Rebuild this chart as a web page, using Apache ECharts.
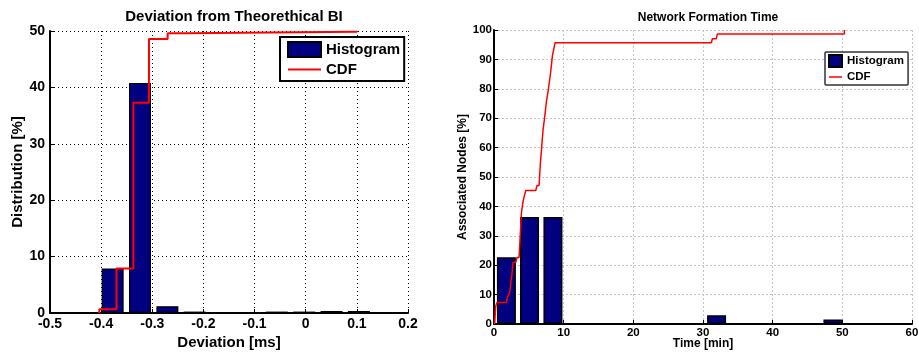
<!DOCTYPE html>
<html>
<head>
<meta charset="utf-8">
<script src="https://cdn.jsdelivr.net/npm/echarts@6/dist/echarts.min.js"></script>
<style>
html,body{margin:0;padding:0;background:#fff;}
#c{width:919px;height:352px;}
</style>
</head>
<body>
<div id="c"></div>
<script>
// ---- Left chart: Deviation from Theorethical BI ----
const devBinCenters = [-0.3775, -0.324, -0.2705, -0.217, -0.1635, -0.110, -0.0565, -0.003, 0.0505, 0.104];
const devHist = [7.9, 40.8, 1.2, 0.25, 0, 0, 0.25, 0.25, 0.35, 0.35];
const devCdfX = [-0.4035, -0.4035, -0.370, -0.337, -0.3065, -0.270, -0.235, 0.1];
const devCdfY = [0, 0.65, 7.9, 37.3, 48.6, 49.6, 49.85, 50];
const devXTicks = [-0.5, 0.2, 0.1];   // min, max, interval
const devYTicks = [0, 50, 10];

// ---- Right chart: Network Formation Time ----
const nftBinCenters = [1.78, 5.10, 8.46, 31.95, 48.65];
const nftHist = [22.7, 36.4, 36.4, 3.0, 1.5];
const nftCdfX = [0.1, 0.24, 0.43, 1.78, 1.92, 2.25, 2.59, 2.73, 3.12, 3.3, 3.6, 3.93, 4.17, 4.55, 5.99, 6.18, 6.47, 6.66, 7.04, 7.28, 7.52, 7.76, 8.0, 8.14, 8.38, 8.57, 8.77, 31.2, 31.35, 31.9, 32.05, 50.3, 50.3];
const nftCdfY = [0, 6, 7.3, 7.3, 9.0, 10.6, 17.3, 20.9, 21, 22.6, 22.6, 37.7, 41.7, 45.4, 45.4, 47.1, 47.1, 54.7, 66, 70.5, 75.6, 79, 79, 85.8, 91.2, 91.2, 95.7, 95.7, 97, 97, 98.6, 98.6, 100];
const nftXTicks = [0, 60, 10];
const nftYTicks = [0, 100, 10];

const FONT = 'Liberation Sans, Arial, Helvetica, sans-serif';
const NAVY = '#000080';
const RED = '#ff0000';

function pairs(xs, ys){ return xs.map((x,i)=>[x, ys[i]]); }

const chart = echarts.init(document.getElementById('c'), null, {renderer:'canvas'});

const axisCommon = (fs, nfs, margin) => ({
  nameMoveOverlap:false,
  axisLine:{show:true, onZero:false, lineStyle:{color:'#000', width:2}},
  axisTick:{show:true, inside:true, length:4, lineStyle:{color:'#000', width:1}},
  axisLabel:{color:'#000', fontWeight:'bold', fontSize:fs, fontFamily:FONT, margin:margin},
  nameTextStyle:{color:'#000', fontWeight:'bold', fontSize:nfs, fontFamily:FONT}
});

const option = {
  animation:false,
  backgroundColor:'#fff',
  title:[
    {text:'Deviation from Theorethical BI', left:229, top:4, textAlign:'center',
     textStyle:{fontSize:15, fontWeight:'bold', fontFamily:FONT, color:'#000'}},
    {text:'Network Formation Time', left:703, top:7, textAlign:'center',
     textStyle:{fontSize:12, fontWeight:'bold', fontFamily:FONT, color:'#000'}}
  ],
  grid:[
    {left:50, right:511, top:31, bottom:39, containLabel:false, outerBoundsMode:'none'},
    {left:494, right:7, top:30, bottom:28, containLabel:false, outerBoundsMode:'none'}
  ],
  legend:[
    {left:280, top:37, orient:'vertical', padding:[4,4,4,7], itemGap:4,
     itemWidth:33, itemHeight:15, backgroundColor:'#fff', borderColor:'#000', borderWidth:2,
     borderRadius:0,
     textStyle:{fontSize:15, fontWeight:'bold', fontFamily:FONT, color:'#000'},
     data:[{name:'Histogram', icon:'rect'}, {name:'CDF', icon:'path://M0,0H33V2H0Z'}],
     selectedMode:false},
    {left:825, top:52, orient:'vertical', padding:[2,1,2,3], itemGap:3,
     itemWidth:13, itemHeight:12, backgroundColor:'#fff', borderColor:'#333', borderWidth:1.5,
     borderRadius:1,
     textStyle:{fontSize:11.5, fontWeight:'bold', fontFamily:FONT, color:'#000'},
     data:[{name:'Histogram ', icon:'rect'}, {name:'CDF ', icon:'path://M0,0H13V1.5H0Z'}],
     selectedMode:false}
  ],
  xAxis:[
    Object.assign(axisCommon(14, 15, 4), {
      type:'value', gridIndex:0, min:devXTicks[0], max:devXTicks[1], interval:devXTicks[2],
      name:'Deviation [ms]', nameLocation:'middle', nameGap:22,
      splitLine:{show:true, lineStyle:{color:'#000', type:[1,3], width:1}},
    }),
    Object.assign(axisCommon(11.5, 12, 3), {
      type:'value', gridIndex:1, min:nftXTicks[0], max:nftXTicks[1], interval:nftXTicks[2],
      name:'Time [min]', nameLocation:'middle', nameGap:14,
      splitLine:{show:true, lineStyle:{color:'#c4c4c4', type:[2,2], width:1}},
    })
  ],
  yAxis:[
    Object.assign(axisCommon(14, 15, 5), {
      type:'value', gridIndex:0, min:devYTicks[0], max:devYTicks[1], interval:devYTicks[2],
      name:'Distribution [%]', nameLocation:'middle', nameGap:25,
      splitLine:{show:true, lineStyle:{color:'#000', type:[1,3], width:1}},
    }),
    Object.assign(axisCommon(11.5, 12, 2), {
      type:'value', gridIndex:1, min:nftYTicks[0], max:nftYTicks[1], interval:nftYTicks[2],
      name:'Associated Nodes [%]', nameLocation:'middle', nameGap:25,
      splitLine:{show:true, lineStyle:{color:'#c4c4c4', type:[2,2], width:1}},
    })
  ],
  series:[
    {name:'Histogram', type:'bar', xAxisIndex:0, yAxisIndex:0, barWidth:22,
     data:pairs(devBinCenters, devHist),
     itemStyle:{color:NAVY, borderColor:'#000', borderWidth:1.2}},
    {name:'CDF', type:'line', xAxisIndex:0, yAxisIndex:0, step:'end', symbol:'none',
     data:pairs(devCdfX, devCdfY),
     lineStyle:{color:RED, width:2}, itemStyle:{color:RED}},
    {name:'Histogram ', type:'bar', xAxisIndex:1, yAxisIndex:1, barWidth:19,
     data:pairs(nftBinCenters, nftHist),
     itemStyle:{color:NAVY, borderColor:'#000', borderWidth:1.5}},
    {name:'CDF ', type:'line', xAxisIndex:1, yAxisIndex:1, symbol:'none',
     data:pairs(nftCdfX, nftCdfY),
     lineStyle:{color:RED, width:1.5}, itemStyle:{color:RED}}
  ]
};
chart.setOption(option);
</script>
</body>
</html>
